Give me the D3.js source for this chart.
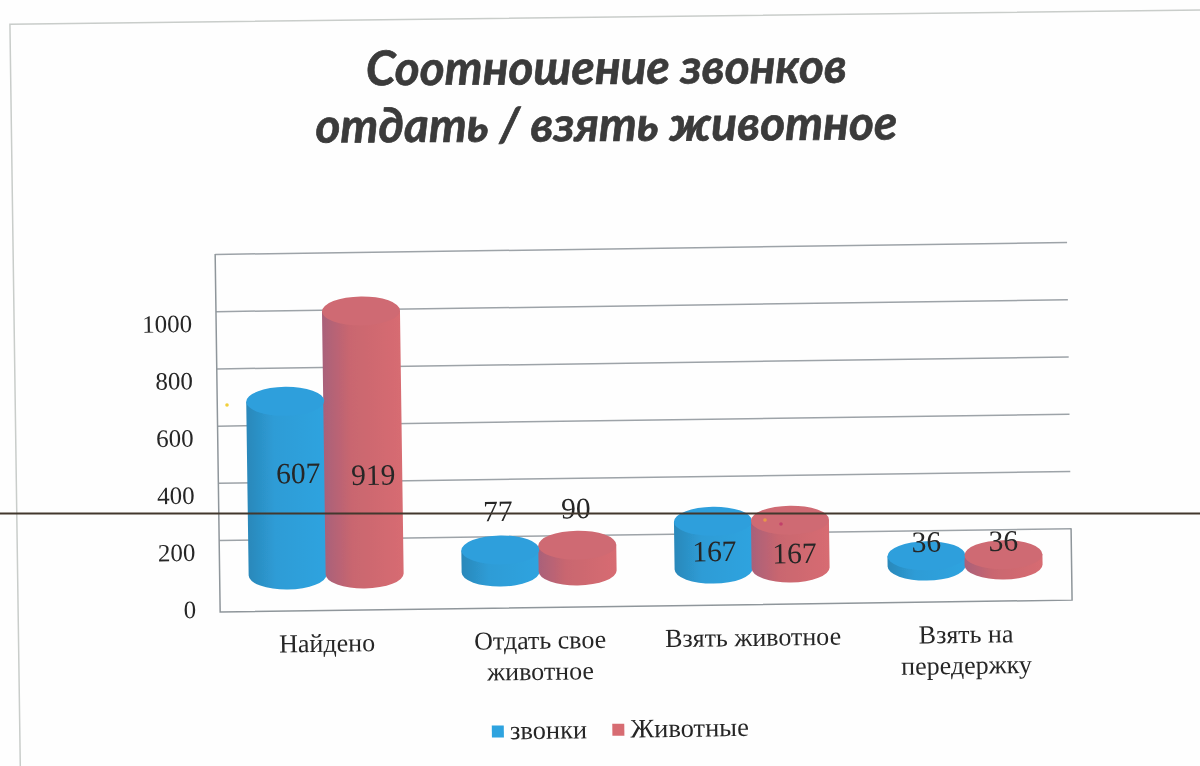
<!DOCTYPE html>
<html>
<head>
<meta charset="utf-8">
<script src="https://cdn.jsdelivr.net/npm/d3@7"></script>
<style>
    html, body { margin: 0; padding: 0; background: #fff; overflow: hidden; }
    svg { display: block; }
    text { font-family: "Liberation Serif", serif; fill: #262626; }
    .title { font-family: Lato, sans-serif; font-weight: 700; font-style: italic; font-size: 47.8px; fill: #3a3a3a; stroke: #3a3a3a; stroke-width: 0.7; text-anchor: middle; }
    .axis--y text { font-size: 25px; }
    .axis--y path, .axis--y line { display: none; }
    .grid path { display: none; }
    .grid line { stroke: #9da3a8; stroke-width: 1.5; }
    .cat { font-size: 26px; text-anchor: middle; }
    .val { font-size: 29.5px; text-anchor: middle; dominant-baseline: central; }
    .legend { font-size: 26.5px; }
</style>
</head>
<body>
<svg></svg>
<script>
//data
const categories = ["Найдено", "Отдать свое животное", "Взять животное", "Взять на передержку"];
const categoryLines = [["Найдено"], ["Отдать свое", "животное"], ["Взять животное"], ["Взять на", "передержку"]];
const series = ["звонки", "Животные"];
const calls = [607, 77, 167, 36];
const animals = [919, 90, 167, 36];
const yTicks = [0, 200, 400, 600, 800, 1000];
const gridTicks = [200, 400, 600, 800, 1000, 1200];
const titleLines = ["Соотношение звонков", "отдать / взять животное"];

//label nudges, the labels sit oddly in the original 3d chart [dx, dy from cap centre]
const labelNudge = [
    [[12, 72], [10, 164]],
    [[-2, -39], [-1, -37]],
    [[1, 30], [4, 33]],
    [[0, -14], [0, -14]]
];

//constants
const W = 1200, H = 766;
const wall = {left: 217, right: 1069, top: 248.6, floor: 592, front: 606.7};
const rx = 39, ry = 14.5;
const colors = {
    "звонки": {cap: "#2f9fdc", dark: "#2a88ba", mid: "#2e9cd6", light: "#2fa3df"},
    "Животные": {cap: "#cf6b73", dark: "#a9617a", mid: "#c9666f", light: "#d76c72"}
};

//scales
const yScale = d3.scaleLinear().domain([0, 1200]).range([wall.floor, wall.top]);
const xGroup = d3.scalePoint().domain(categories).range([wall.left, wall.right]).padding(0.5);
const xSeries = d3.scaleBand().domain(series).range([-77, 77]);

//canvas
const root = d3.select("svg").attr("width", W).attr("height", H);
root.append("rect").attr("width", W).attr("height", H).attr("fill", "#fefefe");

const defs = root.append("defs");
defs.append("filter").attr("id", "scan").append("feGaussianBlur").attr("stdDeviation", 0.55);
series.forEach((s, i) => {
    const g = defs.append("linearGradient").attr("id", "side" + i);
    g.append("stop").attr("offset", "0%").attr("stop-color", colors[s].dark);
    g.append("stop").attr("offset", "35%").attr("stop-color", colors[s].mid);
    g.append("stop").attr("offset", "100%").attr("stop-color", colors[s].light);
});

const page = root.append("g").attr("filter", "url(#scan)");

//the scanned page is tilted a little
const svg = page.append("g")
    .attr("transform", "rotate(-0.8 600 383)");

//page frame
svg.append("path")
    .attr("d", `M15,${H + 40}V16L${W + 40},18.5`)
    .attr("fill", "none")
    .attr("stroke", "#c9cdca")
    .attr("stroke-width", 1.5);

//title, the text barely follows the tilt
page.selectAll(".title")
    .data(titleLines)
    .enter()
    .append("text")
    .attr("class", "title")
    .attr("transform", (d, i) => "translate(606.5," + (84 + i * 57) + ") rotate(-0.3)")
    .text(d => d);

//grid
svg.append("g")
    .attr("class", "grid")
    .attr("transform", "translate(" + wall.left + ",0)")
    .call(d3.axisLeft(yScale)
        .tickValues(gridTicks)
        .tickSize(-(wall.right - wall.left))
        .tickFormat(""));

svg.append("path")
    .attr("d", `M${wall.left},${wall.top}V${wall.front}H${wall.right}V${yScale(200)}`)
    .attr("fill", "none")
    .attr("stroke", "#8f969b")
    .attr("stroke-width", 1.5);

//axes
svg.append("g")
    .attr("class", "axis--y")
    .attr("transform", "translate(202,12)")
    .call(d3.axisLeft(yScale).tickValues(yTicks).tickSize(6).tickFormat(d3.format("d")));

svg.selectAll(".catg")
    .data(categoryLines)
    .enter()
    .append("g")
    .attr("class", "catg")
    .attr("transform", (d, i) => "translate(" + xGroup(categories[i]) + ",0)")
    .selectAll("text")
    .data(d => d)
    .enter()
    .append("text")
    .attr("class", "cat")
    .attr("y", (d, i) => 648 + i * 31)
    .text(d => d);

//cylinders
const baseShift = -21.4;
const chart = svg.append("g").attr("transform", "translate(0," + baseShift + ")");
const rows = [];
[calls, animals].forEach((values, s) => {
    values.forEach((v, i) => rows.push({cat: categories[i], i: i, s: s, name: series[s], value: v}));
});
const cx = d => xGroup(d.cat) + xSeries(d.name) + xSeries.bandwidth() / 2;

chart.selectAll(".side")
    .data(rows)
    .enter()
    .append("path")
    .attr("class", "side")
    .attr("fill", d => "url(#side" + d.s + ")")
    .attr("d", d => {
        const x = cx(d), base = yScale(0), top = yScale(d.value);
        return `M${x - rx},${top}V${base}A${rx},${ry} 0 0 0 ${x + rx},${base}V${top}Z`;
    });

chart.selectAll(".cap")
    .data(rows)
    .enter()
    .append("ellipse")
    .attr("class", "cap")
    .attr("cx", cx)
    .attr("cy", d => yScale(d.value))
    .attr("rx", rx)
    .attr("ry", ry)
    .attr("fill", d => colors[d.name].cap);

//scanner rule across the page, not tilted
page.append("line")
    .attr("x1", 0)
    .attr("x2", W)
    .attr("y1", 513.5)
    .attr("y2", 513.5)
    .attr("stroke", "#43392f")
    .attr("stroke-width", 1.8);

//specks from the scan
page.selectAll(".speck")
    .data([[227, 405, "#f2cf3a"], [765, 520, "#e8964a"], [781, 524, "#c2406a"]])
    .enter()
    .append("circle")
    .attr("class", "speck")
    .attr("cx", d => d[0])
    .attr("cy", d => d[1])
    .attr("r", 1.8)
    .attr("fill", d => d[2]);

//value labels
chart.selectAll(".val")
    .data(rows)
    .enter()
    .append("text")
    .attr("class", "val")
    .attr("x", d => cx(d) + labelNudge[d.i][d.s][0])
    .attr("y", d => yScale(d.value) + labelNudge[d.i][d.s][1])
    .text(d => d.value);

//legend
const legend = svg.selectAll(".lg")
    .data(series)
    .enter()
    .append("g")
    .attr("class", "lg")
    .attr("transform", (d, i) => "translate(" + [487, 607.5][i] + ",730)");

legend.append("rect")
    .attr("y", -6)
    .attr("width", 12)
    .attr("height", 12)
    .attr("fill", d => colors[d].light);

legend.append("text")
    .attr("class", "legend")
    .attr("x", 18)
    .attr("y", 8)
    .text(d => d);
</script>
</body>
</html>
